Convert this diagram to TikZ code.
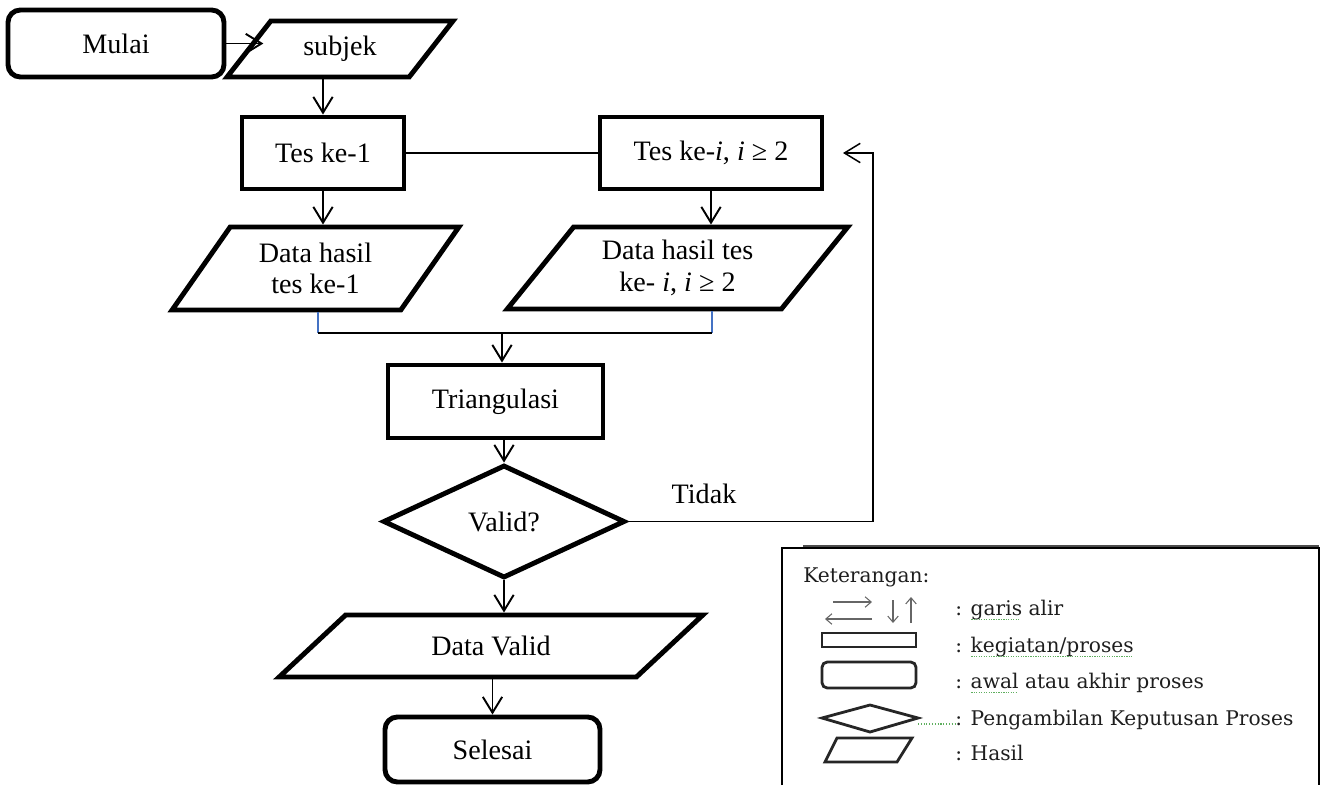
\documentclass[tikz,border=0pt]{standalone}
\usepackage{fontspec}
\setmainfont{Liberation Serif}
\newfontfamily\ketfont{DejaVu Serif}
\usetikzlibrary{shapes.geometric, arrows.meta}
\definecolor{garisbiru}{RGB}{68, 114, 196}
\definecolor{ejaan}{RGB}{95, 175, 95}
\definecolor{teksket}{RGB}{30, 30, 30}
\newsavebox{\kotakeja}
\newcommand{\salaheja}[1]{\sbox{\kotakeja}{#1}\rlap{\usebox{\kotakeja}}\textcolor{ejaan}{\raisebox{-0.45ex}{\hbox to \wd\kotakeja{\leaders\hbox to 1.4pt{\hss\rule{0.7pt}{0.5pt}\hss}\hfill}}}}

\begin{document}
\begin{tikzpicture}[x=0.02cm, y=-0.02cm, font=\fontsize{16}{18}\selectfont,
    alir/.style={line width=1.1pt, -{Straight Barb[length=9pt, width=11pt]}},
    proses/.style={draw, rectangle, line width=2.8pt, minimum height=1.44cm, inner sep=2pt},
    terminal/.style={draw, rectangle, rounded corners=7pt, line width=2.8pt, inner sep=2pt},
    hasil/.style={draw, trapezium, line width=2.8pt, align=center, inner sep=2pt},
    keputusan/.style={draw, diamond, aspect=2.14, line width=2.8pt, minimum width=4.84cm, minimum height=2.26cm, inner sep=1pt},
    ket/.style={font=\ketfont\fontsize{11.5}{13}\selectfont, text=teksket, inner sep=0pt},
    lgalir/.style={line width=0.6pt, black!60, -{Straight Barb[length=3.5pt, width=6pt]}},
    lgbentuk/.style={line width=1.6pt, black!85}]
  \useasboundingbox (0,0) rectangle (1322,785);

  \node[terminal, minimum width=4.32cm, minimum height=1.34cm] (mulai) at (116,43.5) {Mulai};
  \node[hasil, trapezium left angle=52, trapezium right angle=128, minimum width=4.28cm, minimum height=1.12cm] (subjek) at (340,49) {subjek};
  \node[proses, minimum width=3.24cm] (tes1) at (323,153) {Tes ke-1};
  \node[proses, minimum width=4.44cm] (tesi) at (711,153) {Tes ke-\textit{i}, \textit{i} ≥ 2};
  \node[hasil, trapezium left angle=55, trapezium right angle=125, minimum width=5.7cm, minimum height=1.66cm] (data1) at (315.5,268.5) {Data hasil\\tes ke-1};
  \node[hasil, trapezium left angle=51, trapezium right angle=129, minimum width=6.5cm, minimum height=1.64cm] (datai) at (677.5,268) {Data hasil tes\\ke- \textit{i}, \textit{i} ≥ 2};
  \node[proses, minimum width=4.3cm, minimum height=1.46cm] (tri) at (495.5,401.5) {Triangulasi};
  \node[keputusan] (valid) at (504,521.5) {Valid?};
  \node[hasil, trapezium left angle=43, trapezium right angle=137, minimum width=6.44cm, minimum height=1.24cm] (dvalid) at (491,646) {Data Valid};
  \node[terminal, minimum width=4.3cm, minimum height=1.3cm] (selesai) at (492.5,749.5) {Selesai};

  \coordinate (kiri) at (318,333);
  \coordinate (kanan) at (712,333);
  \coordinate (gabung) at (502,333);
  \coordinate (sudut) at (873,153);
  \coordinate (ujung) at (843,153);

  \draw[alir, shorten >=-10pt] (mulai.east) -- (mulai.east -| subjek.180);
  \draw[alir] (subjek.south -| tes1.north) -- (tes1.north);
  \draw[line width=0.85pt] (tes1.east) -- (tesi.west);
  \draw[alir] (tes1.south) -- (tes1.south |- data1.north);
  \draw[alir] (tesi.south) -- (tesi.south |- datai.north);
  \draw[garisbiru, line width=0.7pt] (kiri |- data1.south) -- (kiri);
  \draw[garisbiru, line width=0.7pt] (kanan |- datai.south) -- (kanan);
  \draw[line width=0.85pt] (kiri) -- (kanan);
  \draw[alir] (gabung) -- (gabung |- tri.north);
  \draw[alir] (tri.south -| valid.north) -- (valid.north);
  \draw[alir] (valid.south) -- (valid.south |- dvalid.north);
  \draw[alir] (dvalid.south -| selesai.north) -- (selesai.north);
  \draw[alir, line width=0.85pt] (valid.east) -| (sudut) -- (ujung);
  \node (tidak) at (704,494) {Tidak};

  % keterangan
  \draw[line width=1.4pt] (782,785) -- (782,548) -- (1319,548) -- (1319,785);
  \draw[line width=0.8pt, black!70] (803,546) -- (1319,546);
  \node[ket, anchor=west] (keterangan) at (803,577) {Keterangan:};
  \draw[lgalir] (833,602) -- (872,602);
  \draw[lgalir] (872,619) -- (825,619);
  \draw[lgalir] (893,600) -- (893,623);
  \draw[lgalir] (911,623) -- (911,597);
  \draw[lgbentuk] (822,633) rectangle (916,647);
  \draw[lgbentuk, rounded corners=3pt] (822,662) rectangle (916,688);
  \draw[lgbentuk] (822,718) -- (870,705) -- (918,718) -- (870,732) -- cycle;
  \draw[lgbentuk] (825,762) -- (837,738) -- (912,738) -- (897,762) -- cycle;
  \draw[ejaan, densely dotted, line width=0.6pt] (918,724) -- (955,724);
  \foreach \y/\teks [count=\n] in {610/{: \salaheja{garis} alir}, 647/{: \salaheja{kegiatan/proses}}, 683/{: \salaheja{awal} atau akhir proses}, 720/{: Pengambilan Keputusan Proses}, 753/{: Hasil}} {
    \node[ket, anchor=west] (ket\n) at (955,\y) {\teks};
  }
\end{tikzpicture}
\end{document}
